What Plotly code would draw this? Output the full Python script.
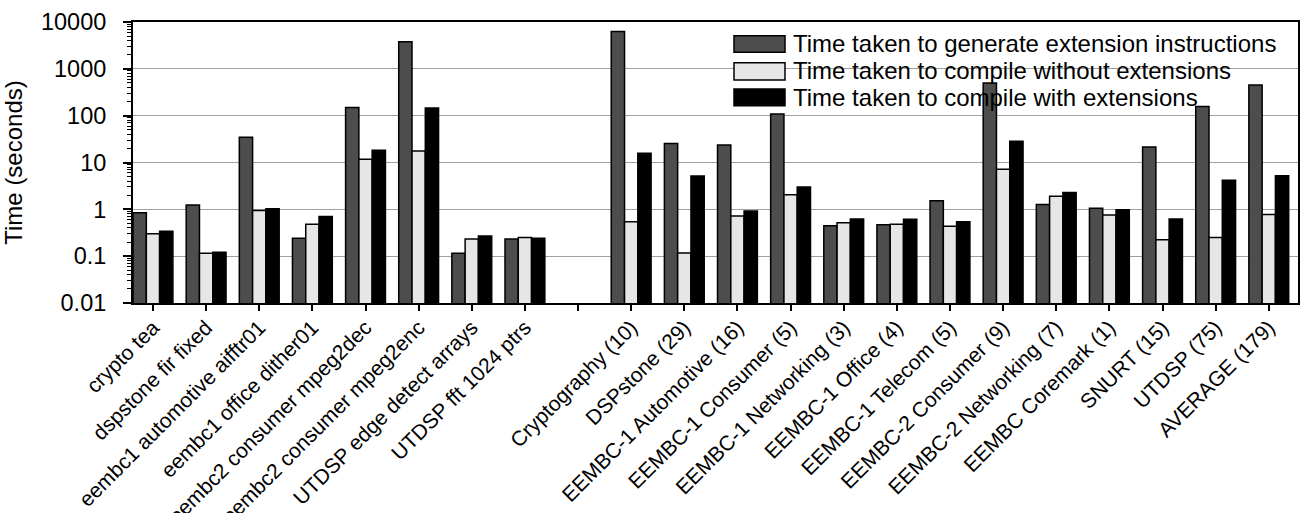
import plotly.graph_objects as go

categories = ["crypto tea", "dspstone fir fixed", "eembc1 automotive aifftr01",
              "eembc1 office dither01", "eembc2 consumer mpeg2dec",
              "eembc2 consumer mpeg2enc", "UTDSP edge detect arrays",
              "UTDSP fft 1024 ptrs", "", "Cryptography (10)", "DSPstone (29)",
              "EEMBC-1 Automotive (16)", "EEMBC-1 Consumer (5)",
              "EEMBC-1 Networking (3)", "EEMBC-1 Office (4)", "EEMBC-1 Telecom (5)",
              "EEMBC-2 Consumer (9)", "EEMBC-2 Networking (7)", "EEMBC Coremark (1)",
              "SNURT (15)", "UTDSP (75)", "AVERAGE (179)"]

gen_ext = [0.85, 1.24, 34.8, 0.24, 150, 3780, 0.116, 0.232, None, 6240, 25.6, 23.5,
           108, 0.445, 0.467, 1.52, 498, 1.27, 1.05, 21.4, 157, 451]
compile_without = [0.30, 0.116, 0.94, 0.48, 11.7, 17.6, 0.232, 0.25, None, 0.54, 0.117,
                   0.72, 2.04, 0.515, 0.48, 0.436, 7.2, 1.91, 0.76, 0.225, 0.25, 0.78]
compile_with = [0.34, 0.121, 1.03, 0.70, 18.2, 145, 0.27, 0.24, None, 15.7, 5.14, 0.92,
                3.01, 0.625, 0.616, 0.54, 28.6, 2.28, 0.98, 0.62, 4.17, 5.2]

series_names = ["Time taken to generate extension instructions",
                "Time taken to compile without extensions",
                "Time taken to compile with extensions"]
series_colors = ["#4d4d4d", "#e6e6e6", "#000000"]
series_values = [gen_ext, compile_without, compile_with]

ytick_vals = [0.01, 0.1, 1, 10, 100, 1000, 10000]
ytick_text = ["0.01", "0.1", "1", "10", "100", "1000", "10000"]

FONT = "Liberation Sans, Arial, sans-serif"

x_pos = list(range(len(categories)))

fig = go.Figure()
for name, color, vals in zip(series_names, series_colors, series_values):
    fig.add_trace(go.Bar(x=x_pos, y=vals, name=name,
                         marker=dict(color=color, line=dict(color="black", width=1.5)),
                         showlegend=False))

L, R, T, B = 133, 9, 22, 210
W, H = 1307, 513
pw, ph = W - L - R, H - T - B

def px_x(p):
    return (p - L) / pw

def px_y(p):
    return (H - B - p) / ph

shapes = [dict(type="rect", xref="paper", yref="paper", x0=px_x(728), x1=1, y0=px_y(123), y1=1,
               fillcolor="white", line=dict(width=0), layer="between")]
annotations = []
rows = [(35.7, 52.3, 44), (62.7, 80, 70.5), (89, 105.7, 97)]
for (top, bot, mid), name, color in zip(rows, series_names, series_colors):
    shapes.append(dict(type="rect", xref="paper", yref="paper",
                       x0=px_x(734), x1=px_x(785), y0=px_y(bot), y1=px_y(top),
                       fillcolor=color, line=dict(color="black", width=1.5), layer="above"))
    annotations.append(dict(xref="paper", yref="paper", x=px_x(791), y=px_y(mid),
                            xanchor="left", yanchor="middle", text=name, showarrow=False,
                            font=dict(family=FONT, size=24, color="black")))

fig.update_layout(
    width=W, height=H,
    margin=dict(l=L, r=R, t=T, b=B, autoexpand=False),
    barmode="group", bargap=0.25, bargroupgap=0,
    plot_bgcolor="white", paper_bgcolor="white",
    font=dict(family=FONT, size=23, color="black"),
    shapes=shapes, annotations=annotations,
)
fig.update_xaxes(
    range=[-0.376, 21.55], tickmode="array", tickvals=x_pos, ticktext=categories,
    tickangle=-45, ticks="outside", ticklen=6, tickwidth=1.5, tickcolor="black",
    showline=True, linecolor="black", linewidth=2, mirror=True, showgrid=False,
    zeroline=False, tickfont=dict(family=FONT, size=21), automargin=False,
    ticklabelstandoff=-4,
)
fig.update_yaxes(
    type="log", range=[-2, 4], tickmode="array", tickvals=ytick_vals, ticktext=ytick_text,
    ticks="outside", ticklen=8, tickwidth=1.5, tickcolor="black",
    minor=dict(ticks="outside", ticklen=4, tickwidth=1, tickcolor="black", showgrid=False,
               tickvals=[m * 10 ** e for e in range(-2, 4) for m in range(2, 10)]),
    showline=True, linecolor="black", linewidth=2, mirror=True,
    showgrid=True, gridcolor="#a0a0a0", gridwidth=1.2,
    title=dict(text="Time (seconds)", standoff=12, font=dict(family=FONT, size=24)),
    tickfont=dict(family=FONT, size=23.5),
    ticklabelstandoff=12, automargin=False,
)

fig.write_html("out.html", config={"displayModeBar": False},
               post_script="document.body.style.margin='0';document.body.style.overflow='hidden';")
